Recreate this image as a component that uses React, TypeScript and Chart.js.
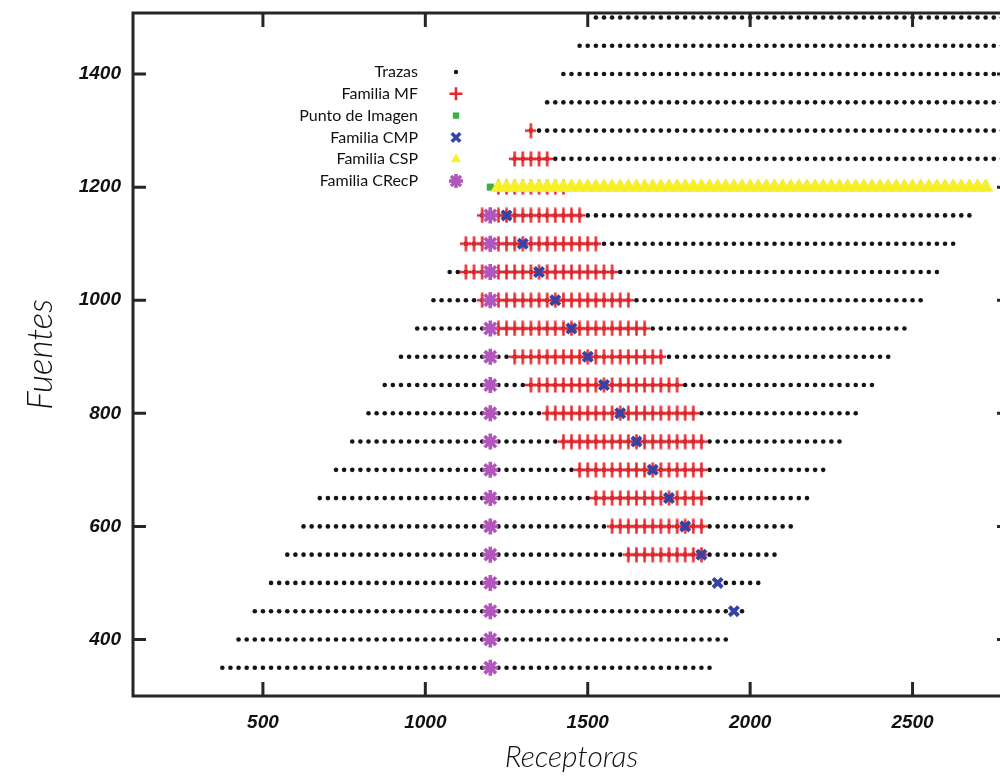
import React, { useEffect, useRef } from 'react';
import { Chart, registerables } from 'chart.js';
import { drawPoint } from 'chart.js/helpers';

Chart.register(...registerables);

// ---------------- data ----------------
const receiverSpacing = 25;

// Trazas: one row per source, receivers from first to last every 25
const traceSources = [350, 400, 450, 500, 550, 600, 650, 700, 750, 800, 850, 900, 950, 1000, 1050, 1100, 1150, 1200, 1250, 1300, 1350, 1400, 1450, 1500];
const traceFirstReceiver = [375, 425, 475, 525, 575, 625, 675, 725, 775, 825, 875, 925, 975, 1025, 1075, 1125, 1175, 1225, 1275, 1325, 1375, 1425, 1475, 1525];
const traceLastReceiver = [1875, 1925, 1975, 2025, 2075, 2125, 2175, 2225, 2275, 2325, 2375, 2425, 2475, 2525, 2575, 2625, 2675, 2725, 2775, 2825, 2875, 2925, 2975, 3025];

// Familia MF: red crosses, first / last receiver per source row
const mfSources = [550, 600, 650, 700, 750, 800, 850, 900, 950, 1000, 1050, 1100, 1150, 1200, 1250, 1300];
const mfFirstReceiver = [1625, 1575, 1525, 1475, 1425, 1375, 1325, 1275, 1225, 1175, 1125, 1125, 1175, 1225, 1275, 1325];
const mfLastReceiver = [1850, 1850, 1850, 1850, 1850, 1825, 1775, 1725, 1675, 1625, 1575, 1525, 1475, 1425, 1375, 1325];

// Punto de Imagen
const imagePointReceiver = [1200];
const imagePointSource = [1200];

// Familia CMP
const cmpSources = [450, 500, 550, 600, 650, 700, 750, 800, 850, 900, 950, 1000, 1050, 1100, 1150];
const cmpReceivers = [1950, 1900, 1850, 1800, 1750, 1700, 1650, 1600, 1550, 1500, 1450, 1400, 1350, 1300, 1250];

// Familia CSP (one source row)
const cspSource = 1200;
const cspFirstReceiver = 1225;
const cspLastReceiver = 2725;

// Familia CRecP
const crecpSources = [350, 400, 450, 500, 550, 600, 650, 700, 750, 800, 850, 900, 950, 1000, 1050, 1100, 1150];
const crecpReceivers = [1200, 1200, 1200, 1200, 1200, 1200, 1200, 1200, 1200, 1200, 1200, 1200, 1200, 1200, 1200, 1200, 1200];

// axes
const xTickValues = [500, 1000, 1500, 2000, 2500];
const yTickValues = [400, 600, 800, 1000, 1200, 1400];
const xRange = [100, 2800];
const yRange = [300, 1508];
const xTitle = 'Receptoras';
const yTitle = 'Fuentes';
const legendLabels = ['Trazas', 'Familia MF', 'Punto de Imagen', 'Familia CMP', 'Familia CSP', 'Familia CRecP'];

// ---------------- helpers ----------------
type Pt = { x: number; y: number };

function rowPoints(sources: number[], first: number[], last: number[]): Pt[] {
  const pts: Pt[] = [];
  sources.forEach((s, i) => {
    for (let r = first[i]; r <= last[i]; r += receiverSpacing) pts.push({ x: r, y: s });
  });
  return pts;
}

function pairPoints(xs: number[], ys: number[]): Pt[] {
  return xs.map((x, i) => ({ x, y: ys[i] }));
}

function makeCrossImage(w: number, h: number, color: string, lw: number) {
  const c = document.createElement('canvas');
  c.width = w;
  c.height = h;
  const g = c.getContext('2d')!;
  g.strokeStyle = color;
  g.lineWidth = lw;
  g.beginPath();
  g.moveTo(w / 2, 0.5);
  g.lineTo(w / 2, h - 0.5);
  g.moveTo(0, h / 2);
  g.lineTo(w, h / 2);
  g.stroke();
  return c;
}

const RED = '#e8262c';
const BLUE = '#3343a8';
const GREEN = '#3fae49';
const YELLOW = '#f5f02a';
const PURPLE = '#b156ba';
const BLACK = '#151515';
const FRAME = '#262626';

const frameLegendPlugin = {
  id: 'frameLegend',
  afterDatasetsDraw(chart: any) {
    const { ctx, chartArea } = chart;
    const { left, right, top, bottom } = chartArea;
    const xs = chart.scales.x;
    const ys = chart.scales.y;
    ctx.save();
    ctx.strokeStyle = FRAME;
    ctx.lineWidth = 3;
    ctx.lineCap = 'butt';
    ctx.strokeRect(left, top, right - left, bottom - top);
    ctx.beginPath();
    xTickValues.forEach((v) => {
      const px = xs.getPixelForValue(v);
      ctx.moveTo(px, bottom);
      ctx.lineTo(px, bottom - 14);
      ctx.moveTo(px, top);
      ctx.lineTo(px, top + 14);
    });
    yTickValues.forEach((v) => {
      const py = ys.getPixelForValue(v);
      ctx.moveTo(left, py);
      ctx.lineTo(left + 13, py);
      ctx.moveTo(right, py);
      ctx.lineTo(right - 13, py);
    });
    ctx.stroke();

    // legend
    const textRight = 418;
    const markerX = 456;
    const y0 = 72;
    const dy = 21.8;
    ctx.font = '16px Lato, "Noto Sans", sans-serif';
    ctx.textAlign = 'right';
    ctx.textBaseline = 'middle';
    const styles = [
      { pointStyle: 'circle', radius: 2.2, borderWidth: 0, fill: BLACK, stroke: BLACK },
      { pointStyle: 'cross', radius: 6.5, borderWidth: 2.6, fill: RED, stroke: RED },
      { pointStyle: 'rect', radius: 4.5, borderWidth: 0, fill: GREEN, stroke: GREEN },
      { pointStyle: 'crossRot', radius: 6, borderWidth: 3.5, fill: BLUE, stroke: BLUE },
      { pointStyle: 'triangle', radius: 5, borderWidth: 1, fill: YELLOW, stroke: YELLOW },
      { pointStyle: 'star', radius: 7, borderWidth: 3.5, fill: PURPLE, stroke: PURPLE },
    ];
    legendLabels.forEach((label, i) => {
      const y = y0 + i * dy;
      ctx.fillStyle = '#111111';
      ctx.fillText(label, textRight, y);
      const st = styles[i];
      ctx.fillStyle = st.fill;
      ctx.strokeStyle = st.stroke;
      ctx.lineWidth = st.borderWidth;
      drawPoint(ctx, { pointStyle: st.pointStyle, radius: st.radius, borderWidth: st.borderWidth, rotation: 0 } as any, markerX, y);
    });
    ctx.restore();
  },
};

export default function App() {
  const canvasRef = useRef<HTMLCanvasElement | null>(null);

  useEffect(() => {
    const canvas = canvasRef.current;
    if (!canvas) return;
    const crossImg = makeCrossImage(11, 16, RED, 2.5);

    const tickFont = { family: '"Liberation Sans", Arial, sans-serif', size: 19, weight: 'bold' as const, style: 'italic' as const };

    const chart = new Chart(canvas, {
      type: 'scatter',
      data: {
        datasets: [
          {
            label: legendLabels[0],
            data: rowPoints(traceSources, traceFirstReceiver, traceLastReceiver),
            pointStyle: 'circle',
            pointRadius: 2.3,
            pointBorderWidth: 0,
            backgroundColor: BLACK,
            borderColor: BLACK,
            order: 6,
          },
          {
            label: legendLabels[1],
            data: rowPoints(mfSources, mfFirstReceiver, mfLastReceiver),
            pointStyle: crossImg as any,
            pointRadius: 6,
            backgroundColor: RED,
            borderColor: RED,
            order: 5,
          },
          {
            label: legendLabels[2],
            data: pairPoints(imagePointReceiver, imagePointSource),
            pointStyle: 'rect',
            pointRadius: 5,
            pointBorderWidth: 0,
            backgroundColor: GREEN,
            borderColor: GREEN,
            order: 4,
          },
          {
            label: legendLabels[3],
            data: pairPoints(cmpReceivers, cmpSources),
            pointStyle: 'crossRot',
            pointRadius: 6.5,
            pointBorderWidth: 4,
            backgroundColor: BLUE,
            borderColor: BLUE,
            order: 3,
          },
          {
            label: legendLabels[4],
            data: rowPoints([cspSource], [cspFirstReceiver], [cspLastReceiver]),
            pointStyle: 'triangle',
            pointRadius: 8.2,
            pointBorderWidth: 1,
            backgroundColor: YELLOW,
            borderColor: YELLOW,
            order: 2,
          },
          {
            label: legendLabels[5],
            data: pairPoints(crecpReceivers, crecpSources),
            pointStyle: 'star',
            pointRadius: 8,
            pointBorderWidth: 3.6,
            backgroundColor: PURPLE,
            borderColor: PURPLE,
            order: 1,
          },
        ],
      },
      options: {
        responsive: false,
        maintainAspectRatio: false,
        animation: false,
        events: [],
        layout: { padding: { left: 0, right: 20, top: 13, bottom: 0 } },
        plugins: {
          legend: { display: false },
          tooltip: { enabled: false },
        },
        scales: {
          x: {
            type: 'linear',
            min: xRange[0],
            max: xRange[1],
            afterBuildTicks: (s: any) => {
              s.ticks = xTickValues.map((v) => ({ value: v }));
            },
            afterFit: (s: any) => {
              s.height = 88;
              s.paddingLeft = 0;
              s.paddingRight = 0;
            },
            grid: { display: false, drawTicks: false },
            border: { display: false },
            ticks: {
              padding: 15,
              autoSkip: false,
              maxRotation: 0,
              color: '#111111',
              font: tickFont,
              callback: (v: any) => String(v),
            },
            title: {
              display: true,
              text: xTitle,
              color: '#111111',
              font: { family: 'Lato, "Noto Sans", sans-serif', size: 30, style: 'italic', weight: 300 },
              padding: { top: 0, bottom: 9 },
            },
          },
          y: {
            type: 'linear',
            min: yRange[0],
            max: yRange[1],
            afterBuildTicks: (s: any) => {
              s.ticks = yTickValues.map((v) => ({ value: v }));
            },
            afterFit: (s: any) => {
              s.width = 133;
              s.paddingTop = 0;
              s.paddingBottom = 0;
            },
            grid: { display: false, drawTicks: false },
            border: { display: false },
            ticks: {
              padding: 12,
              autoSkip: false,
              color: '#111111',
              font: tickFont,
              callback: (v: any) => String(v),
            },
            title: {
              display: true,
              text: yTitle,
              color: '#111111',
              font: { family: 'Lato, "Noto Sans", sans-serif', size: 35, style: 'italic', weight: 300 },
              padding: { top: 20, bottom: 0 },
            },
          },
        },
      },
      plugins: [frameLegendPlugin],
    });

    return () => chart.destroy();
  }, []);

  return (
    <div style={{ position: 'absolute', left: 0, top: 0, width: 1000, height: 784, overflow: 'hidden', background: '#ffffff' }}>
      <canvas ref={canvasRef} width={1030} height={784} style={{ display: 'block', width: 1030, height: 784 }} />
    </div>
  );
}
